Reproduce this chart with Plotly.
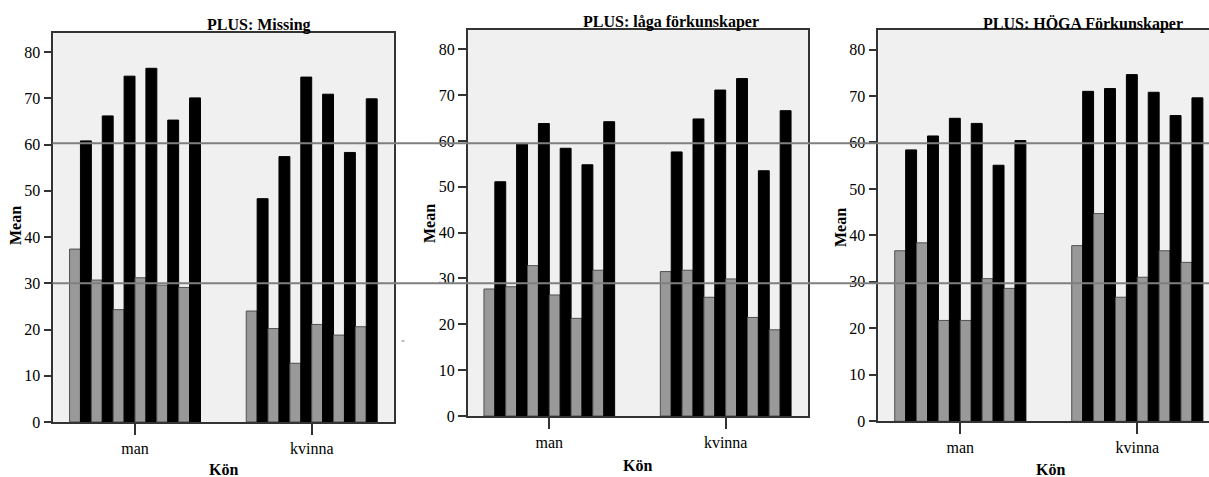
import plotly.graph_objects as go

W, H = 1209, 477

categories = ["man", "kvinna"]
panel_titles = ["PLUS: Missing", "PLUS: låga förkunskaper", "PLUS: HÖGA Förkunskaper"]

# Means per panel: series A (grey) and series B (black), six measures per gender
missing_a_man = [37.4, 30.7, 24.3, 31.2, 29.6, 29.1]
missing_a_kvinna = [24.0, 20.2, 12.7, 21.1, 18.8, 20.6]
missing_b_man = [60.8, 66.2, 74.8, 76.5, 65.3, 70.1]
missing_b_kvinna = [48.3, 57.4, 74.6, 70.9, 58.3, 69.9]

laga_a_man = [27.7, 28.2, 32.8, 26.4, 21.3, 31.8]
laga_a_kvinna = [31.5, 31.8, 25.9, 29.9, 21.5, 18.8]
laga_b_man = [51.1, 59.3, 63.8, 58.4, 54.8, 64.2]
laga_b_kvinna = [57.6, 64.8, 71.1, 73.6, 53.5, 66.6]

hoga_a_man = [36.7, 38.4, 21.7, 21.7, 30.7, 28.6]
hoga_a_kvinna = [37.8, 44.7, 26.7, 31.0, 36.7, 34.2]
hoga_b_man = [58.4, 61.4, 65.2, 64.1, 55.1, 60.4]
hoga_b_kvinna = [71.0, 71.6, 74.6, 70.8, 65.8, 69.6]

# Reference levels drawn across all panels (in the first panel's units)
reference_levels = [60.3, 30.0]

panels = [
    (missing_a_man, missing_a_kvinna, missing_b_man, missing_b_kvinna),
    (laga_a_man, laga_a_kvinna, laga_b_man, laga_b_kvinna),
    (hoga_a_man, hoga_a_kvinna, hoga_b_man, hoga_b_kvinna),
]


def px(x):
    return x / W


def py(y):
    return 1 - y / H


# pixel geometry of each panel: left, right, top, bottom, x-range
geom = [
    dict(l=53.3, r=393.7, t=32.7, b=422.0, xr=[-0.4624, 1.464], mirror_y=True),
    dict(l=467.7, r=808.0, t=30.0, b=416.0, xr=[-0.4626, 1.4666], mirror_y=True),
    dict(l=878.3, r=1209.0, t=30.0, b=421.3, xr=[-0.4633, 1.405], mirror_y=False),
]

FONT = "Liberation Serif"
GREY = "#999999"
BG = "#f0f0f0"

fig = go.Figure()

for p, (a_man, a_kv, b_man, b_kv) in enumerate(panels):
    xa = "x" if p == 0 else f"x{p + 1}"
    ya = "y" if p == 0 else f"y{p + 1}"
    for j in range(len(a_man)):
        fig.add_trace(go.Bar(
            x=categories, y=[a_man[j], a_kv[j]], xaxis=xa, yaxis=ya,
            marker=dict(color=GREY, line=dict(color="#505050", width=1)),
            showlegend=False, hoverinfo="y",
        ))
        fig.add_trace(go.Bar(
            x=categories, y=[b_man[j], b_kv[j]], xaxis=xa, yaxis=ya,
            marker=dict(color="#000000", line=dict(color="#000000", width=1)),
            showlegend=False, hoverinfo="y",
        ))

layout = dict(
    width=W, height=H,
    margin=dict(l=0, r=0, t=0, b=0, autoexpand=False),
    paper_bgcolor="white",
    plot_bgcolor=BG,
    barmode="group",
    bargap=0.259,
    bargroupgap=0,
    font=dict(family=FONT, size=16, color="#000"),
)

for p, g in enumerate(geom):
    sx = "" if p == 0 else str(p + 1)
    layout[f"xaxis{sx}"] = dict(
        domain=[px(g["l"]), px(g["r"])],
        anchor=f"y{sx}",
        type="category",
        range=g["xr"],
        showgrid=False, zeroline=False,
        showline=True, linecolor="#333", linewidth=1.5, mirror=True,
        ticks="outside", ticklen=11, tickwidth=1.5, tickcolor="#333",
        tickfont=dict(family=FONT, size=16, color="#000"),
        fixedrange=True, automargin=False,
    )
    layout[f"yaxis{sx}"] = dict(
        domain=[py(g["b"]), py(g["t"])],
        anchor=f"x{sx}",
        range=[0, 84.2],
        dtick=10, tick0=0,
        showgrid=False, zeroline=False,
        showline=True, linecolor="#333", linewidth=1.5,
        mirror=g["mirror_y"],
        ticks="outside", ticklen=8, tickwidth=1.5, tickcolor="#333",
        tickfont=dict(family=FONT, size=16, color="#000"),
        fixedrange=True, automargin=False,
    )

fig.update_layout(**layout)

# panel titles and axis titles
title_pos = [(259, 25.5), (671, 22), (1083, 24)]
mean_pos = [(15, 226), (430, 224), (840, 228)]
kon_pos = [(223, 469), (637, 465), (1050, 469)]

annotations = []
for p in range(3):
    tx, ty = title_pos[p]
    annotations.append(dict(
        x=px(tx), y=py(ty), xref="paper", yref="paper", showarrow=False,
        text=f"<b>{panel_titles[p]}</b>", xanchor="center", yanchor="middle",
        font=dict(family=FONT, size=16, color="#000"),
    ))
    mx, my = mean_pos[p]
    annotations.append(dict(
        x=px(mx), y=py(my), xref="paper", yref="paper", showarrow=False,
        text="<b>Mean</b>", textangle=-90, xanchor="center", yanchor="middle",
        font=dict(family=FONT, size=16, color="#000"),
    ))
    kx, ky = kon_pos[p]
    annotations.append(dict(
        x=px(kx), y=py(ky), xref="paper", yref="paper", showarrow=False,
        text="<b>Kön</b>", xanchor="center", yanchor="middle",
        font=dict(family=FONT, size=16, color="#000"),
    ))
fig.update_layout(annotations=annotations)

# horizontal reference lines spanning all panels, plus a small stray tick
shapes = []
for lvl in reference_levels:
    shapes.append(dict(
        type="line", xref="paper", yref="y",
        x0=px(52.5), x1=1.0, y0=lvl, y1=lvl,
        line=dict(color="#7f7f7f", width=2), layer="above",
    ))
shapes.append(dict(
    type="line", xref="paper", yref="paper",
    x0=px(401.5), x1=px(404.5), y0=py(341), y1=py(341),
    line=dict(color="#aaaaaa", width=1.5), layer="above",
))
fig.update_layout(shapes=shapes)

fig.write_html("out.html")
